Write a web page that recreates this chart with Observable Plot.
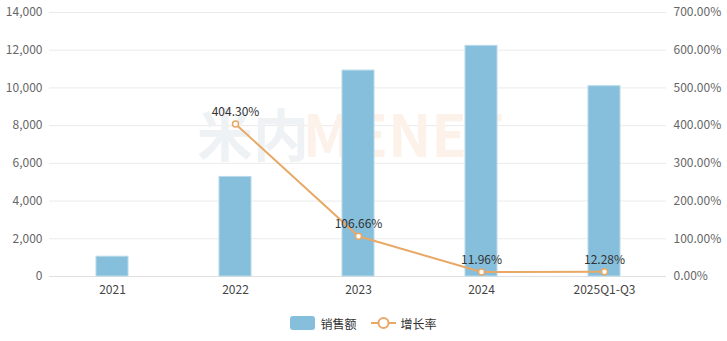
<!DOCTYPE html>
<html><head><meta charset="utf-8">
<script src="https://cdn.jsdelivr.net/npm/d3@7"></script>
<script src="https://cdn.jsdelivr.net/npm/@observablehq/plot@0.6"></script>
<style>
body{margin:0;background:#fff;font-family:"Noto Sans CJK SC","Noto Sans",sans-serif;}
#legend{display:flex;justify-content:center;align-items:center;gap:8px;font-size:12px;color:#333;height:36px;}
.li{display:flex;align-items:center;gap:5px;}
</style></head><body>
<div id="chart"></div>
<div id="legend"></div>
<script>
const categories = ["2021","2022","2023","2024","2025Q1-Q3"];
const sales = [1050, 5280, 10920, 12230, 10090];
const growth = [null, 404.30, 106.66, 11.96, 12.28];
const leftTicks = [0,2000,4000,6000,8000,10000,12000,14000];
const rightTicks = [0,100,200,300,400,500,600,700];
const seriesNames = ["销售额","增长率"];
const watermark = ["米内","MENET"];

const ratio = 14000/700;
const rows = categories.map((c,i)=>({cat:c, sales:sales[i], growth:growth[i]}));
const lineRows = rows.filter(d=>d.growth!=null);
const blue = "#86bfdc", orange = "#e8a866";

const plot = Plot.plot({
  width:727, height:305,
  marginTop:12, marginBottom:29, marginLeft:49, marginRight:61,
  style:{fontFamily:'"Noto Sans CJK SC","Noto Sans",sans-serif', fontSize:"12px", color:"#666"},
  x:{domain:categories, paddingInner:0.74, paddingOuter:0.37, label:null},
  y:{domain:[0,14000], label:null},
  marks:[
    Plot.gridY(leftTicks.slice(1), {stroke:"#ebebeb", strokeOpacity:1}),
    Plot.ruleY([0], {stroke:"#e0e0e0"}),
    Plot.text([watermark[0]], {frameAnchor:"middle", dx:-105, dy:-6, text:d=>d, fontSize:56, fontWeight:"bold", fill:"#eef2f4"}),
    Plot.text([watermark[1]], {frameAnchor:"middle", dx:45, dy:-6, text:d=>d, fontSize:58, fontWeight:"bold", fill:"#fdf2ea"}),
    Plot.barY(rows, {x:"cat", y:"sales", fill:blue, stroke:"#b7d9ea", strokeWidth:1}),
    Plot.line(lineRows, {x:"cat", y:d=>d.growth*ratio, stroke:orange, strokeWidth:2}),
    Plot.dot(lineRows, {x:"cat", y:d=>d.growth*ratio, r:3, fill:"#fff", stroke:orange, strokeWidth:1.5}),
    Plot.text(lineRows, {x:"cat", y:d=>d.growth*ratio, text:d=>d.growth.toFixed(2)+"%", dy:-12, fill:"#333", fontSize:12}),
    Plot.axisY(leftTicks, {anchor:"left", tickSize:0, tickPadding:7, tickFormat:d=>d3.format(",")(d), label:null, fill:"#666"}),
    Plot.axisY(rightTicks.map(t=>t*ratio), {anchor:"right", tickSize:0, tickPadding:7, tickFormat:d=>(d/ratio).toFixed(2)+"%", label:null, fill:"#666"}),
    Plot.axisX({tickSize:0, tickPadding:9, label:null, fill:"#444"})
  ]
});
document.getElementById("chart").appendChild(plot);

const lg = document.getElementById("legend");
lg.innerHTML = `<div class="li"><svg width="25" height="14"><rect x="0" y="0" width="25" height="14" rx="3" fill="${blue}"/></svg><span>${seriesNames[0]}</span></div>
<div class="li" style="margin-left:6px"><svg width="25" height="14"><line x1="0" x2="25" y1="7" y2="7" stroke="${orange}" stroke-width="2"/><circle cx="12.5" cy="7" r="5" fill="#fff" stroke="${orange}" stroke-width="2"/></svg><span>${seriesNames[1]}</span></div>`;
</script>
</body></html>
